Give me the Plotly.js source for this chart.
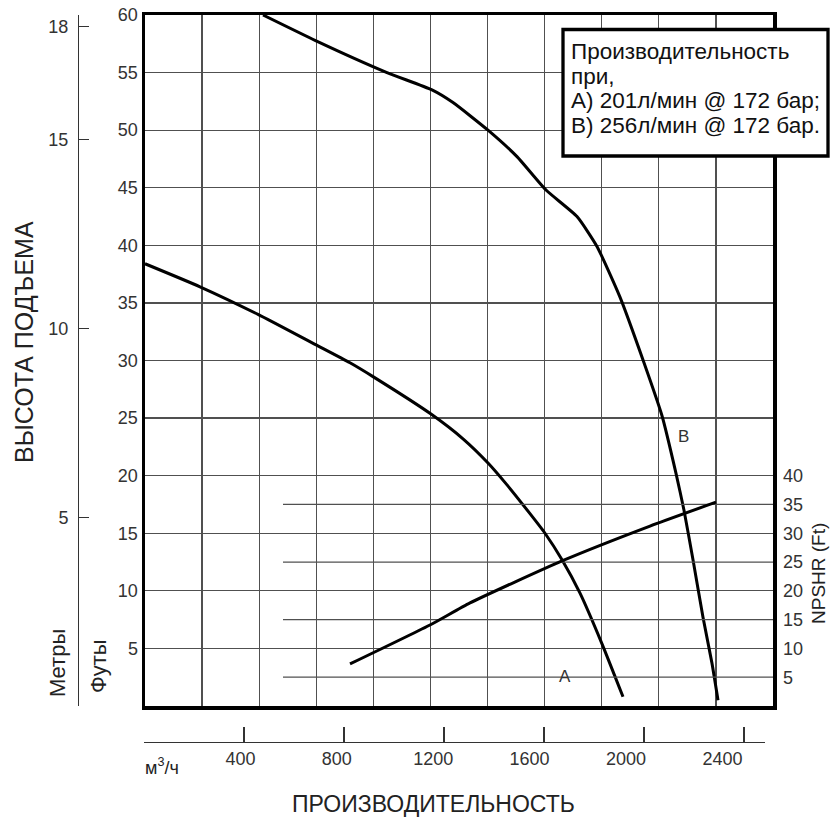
<!DOCTYPE html>
<html><head><meta charset="utf-8">
<script src="https://cdn.plot.ly/plotly-3.0.1.min.js"></script>
<style>html,body{margin:0;padding:0;background:#fff;} #chart{width:830px;height:819px;}</style>
</head><body><div id="chart"></div>
<script>
// ---- data (flow in m3/h, head in ft, NPSHR in ft) ----
const curveA_flow = [0, 220, 452, 680, 820, 912, 1144, 1272, 1372, 1448, 1540, 1600, 1668, 1740, 1828, 1912];
const curveA_head = [38.4, 36.4, 34.0, 31.4, 29.8, 28.6, 25.35, 23.2, 21.1, 19.2, 16.7, 15.0, 12.7, 9.8, 5.4, 0.8];

const curveB_flow = [472, 680, 968, 1148, 1232, 1372, 1488, 1604, 1728, 1808, 1900, 1996, 2068, 2124, 2156, 2192, 2232, 2268, 2292];
const curveB_head = [60.0, 57.8, 55.0, 53.5, 52.4, 50.0, 47.7, 44.8, 42.5, 39.9, 35.5, 29.8, 25.2, 20.2, 17.0, 12.7, 7.7, 3.7, 0.5];

const npshr_flow = [820, 1144, 1300, 1668, 2020, 2284];
const npshr_ft   = [7.3, 14.15, 17.9, 25.2, 31.25, 35.4];

const headTicksFt   = [5,10,15,20,25,30,35,40,45,50,55,60];
const headTicksM    = [5,10,15,18];
const npshrTicks    = [5,10,15,20,25,30,35,40];
const npshrHalfGrid = [5,15,25,35];
const npshrGridStartFlow = 552;
const flowTicks      = [0,400,800,1200,1600,2000,2400];
const flowLabelTicks = [400,800,1200,1600,2000,2400];

const legendLines = ['Производительность', 'при,', 'А) 201л/мин @ 172 бар;', 'В) 256л/мин @ 172 бар.'];
const curveLabels = [{name:'A', flow:1680, head:2.55}, {name:'B', flow:2153, head:23.4}];

// ---- geometry ----
const W = 830, H = 819;
const px = v => v / W;
const py = v => 1 - v / H;
const FLOW_MAX = 2512;   // 11 grid columns
const FONT = 'Liberation Sans, Arial, sans-serif';
const GRID = '#505050';
const TXT = '#333';

const traces = [];
npshrHalfGrid.forEach(v => traces.push({
  x: [npshrGridStartFlow, FLOW_MAX], y: [v, v], xaxis: 'x', yaxis: 'y2',
  mode: 'lines', line: {color: GRID, width: 1.2}, hoverinfo: 'skip', showlegend: false
}));
const curveLine = {color:'#000', width:3, shape:'spline', smoothing:0.5};
traces.push({x: curveA_flow, y: curveA_head, xaxis:'x', yaxis:'y', mode:'lines', line:curveLine, showlegend:false});
traces.push({x: curveB_flow, y: curveB_head, xaxis:'x', yaxis:'y', mode:'lines', line:curveLine, showlegend:false});
traces.push({x: npshr_flow, y: npshr_ft, xaxis:'x', yaxis:'y2', mode:'lines', line:curveLine, showlegend:false});
traces.push({x:[null], y:[null], xaxis:'x2', yaxis:'y3', mode:'lines', showlegend:false, hoverinfo:'skip'});
traces.push({x:[null], y:[null], xaxis:'x3', yaxis:'y3', mode:'lines', showlegend:false, hoverinfo:'skip'});

const yDomain = [py(706), py(15)];

const annotations = [];
legendLines.forEach((t, i) => annotations.push({
  text: t, xref:'paper', yref:'paper', x: px(569), y: py([51, 76, 100, 125.5][i]),
  xanchor:'left', yanchor:'middle', showarrow:false,
  font:{family:FONT, size:22.5, color:'#111'}
}));
curveLabels.forEach(c => annotations.push({
  text: c.name, xref:'x', yref:'y', x: c.flow, y: c.head, showarrow:false,
  xanchor:'center', yanchor:'middle', font:{family:FONT, size:17, color:TXT}
}));
function lbl(text, x, y, size, angle) {
  annotations.push({text, xref:'paper', yref:'paper', x:px(x), y:py(y), xanchor:'center', yanchor:'middle',
    textangle: angle || 0, showarrow:false, font:{family:FONT, size, color:'#222'}});
}
lbl('ВЫСОТА ПОДЪЕМА', 24, 342, 25, -90);
lbl('ПРОИЗВОДИТЕЛЬНОСТЬ', 433, 804, 23);
lbl('Метры', 57, 663, 22, -90);
lbl('Футы', 98, 666, 22, -90);
lbl('NPSHR (Ft)', 818, 574, 19, -90);
annotations.push({text:'м<sup>3</sup>/ч', xref:'paper', yref:'paper', x:px(143), y:py(766),
  xanchor:'left', yanchor:'middle', showarrow:false, font:{family:FONT, size:18, color:'#222'}});

const layout = {
  width: W, height: H,
  margin: {l:0, r:0, t:0, b:0},
  paper_bgcolor: '#fff', plot_bgcolor: 'rgba(0,0,0,0)',
  showlegend: false,
  font: {family: FONT, color: TXT},
  xaxis: {domain:[px(145), px(773)], range:[0, FLOW_MAX], tick0:0, dtick: FLOW_MAX/11,
    showgrid:true, gridcolor:GRID, gridwidth:1.2, zeroline:false, showticklabels:false, ticks:'',
    showline:true, linecolor:'#000', linewidth:3.5, mirror:true},
  yaxis: {domain:yDomain, range:[0,60], tickmode:'array', tickvals:headTicksFt,
    showgrid:true, gridcolor:GRID, gridwidth:1.2, zeroline:false, ticks:'',
    showline:true, linecolor:'#000', linewidth:3.5, mirror:true,
    tickfont:{family:FONT, size:18, color:TXT}},
  yaxis2: {overlaying:'y', side:'right', anchor:'x', range:[0,120], tickmode:'array', tickvals:npshrTicks,
    showgrid:false, zeroline:false, showline:false, ticks:'', ticklabelstandoff:9,
    tickfont:{family:FONT, size:18, color:TXT}},
  yaxis3: {domain:yDomain, anchor:'free', position:px(78), side:'left', range:[0,18.3],
    tickmode:'array', tickvals:headTicksM,
    ticks:'inside', ticklen:10, tickwidth:1.2, tickcolor:TXT,
    minor:{tickmode:'array', tickvals:[0], ticks:'inside', ticklen:10, tickwidth:1.2, tickcolor:TXT},
    showline:true, linecolor:TXT, linewidth:1.2, showgrid:false, zeroline:false,
    ticklabelstandoff:6, tickfont:{family:FONT, size:18, color:TXT}},
  xaxis2: {domain:[px(144), px(765)], anchor:'free', position:py(742), range:[0, (765-144)*4],
    tickmode:'array', tickvals:flowTicks, showticklabels:false,
    ticks:'inside', ticklen:15, tickwidth:1.2, tickcolor:TXT,
    showline:true, linecolor:TXT, linewidth:1.2, showgrid:false, zeroline:false},
  xaxis3: {domain:[px(144), px(765)], anchor:'free', position:py(742), range:[0, 621/0.241],
    tickmode:'array', tickvals:flowLabelTicks, ticks:'', showline:false, showgrid:false, zeroline:false,
    ticklabelstandoff:4, tickfont:{family:FONT, size:18, color:TXT}},
  shapes: [{type:'rect', xref:'paper', yref:'paper', x0:px(563), x1:px(828), y0:py(156), y1:py(29.5),
    line:{color:'#000', width:3.3}, fillcolor:'#fff', layer:'above'}],
  annotations: annotations
};

Plotly.newPlot('chart', traces, layout, {staticPlot:true, displayModeBar:false});
</script>
</body></html>
